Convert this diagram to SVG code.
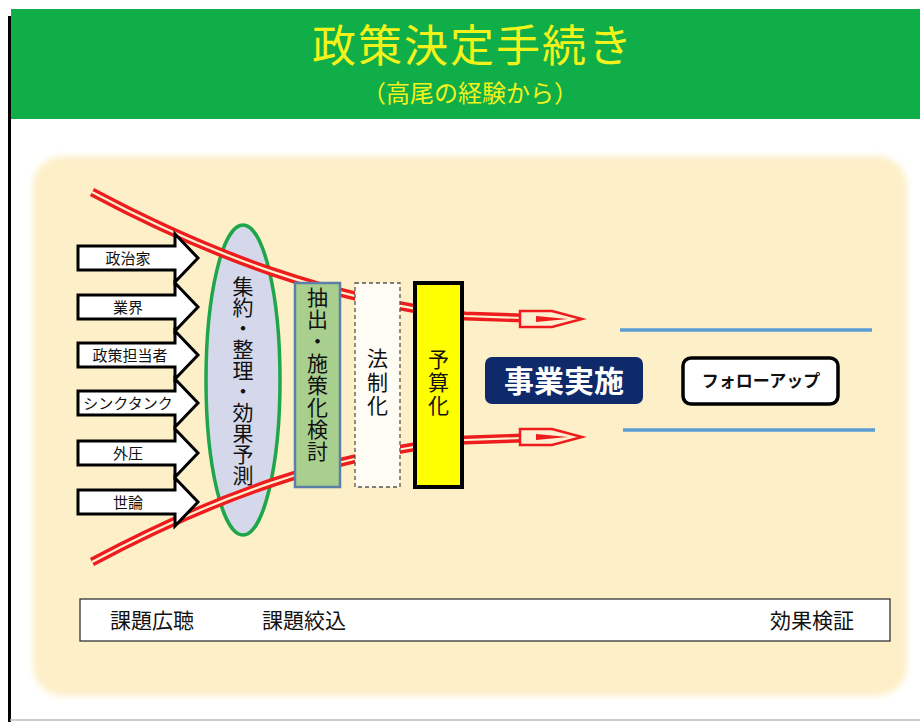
<svg xmlns="http://www.w3.org/2000/svg" width="920" height="722" viewBox="0 0 920 722">
<defs>
<style>
.jp{font-family:"Noto Sans CJK JP","Noto Sans CJK SC",sans-serif;}
.arr{fill:#ffffff;stroke:#000;stroke-width:3;stroke-linejoin:miter;}
.alab{font-size:15px;fill:#111;text-anchor:middle;}
.vt{font-size:21px;fill:#111;writing-mode:vertical-rl;}
.red{fill:none;stroke:#ee1c1c;stroke-width:9;}
.gap{fill:none;stroke:#fdefd0;stroke-width:2.2;}
.head{fill:#fdefd0;stroke:#ee1c1c;stroke-width:2.5;stroke-linejoin:miter;}
.blue{stroke:#5b9bd5;stroke-width:3.5;}
.bot{font-size:21px;fill:#111;}
</style>
<filter id="soft" x="-5%" y="-5%" width="110%" height="110%"><feGaussianBlur stdDeviation="3"/></filter>
</defs>
<rect width="920" height="722" fill="#ffffff"/>
<line x1="9.5" y1="16" x2="9.5" y2="722" stroke="#000" stroke-width="3"/>
<line x1="10" y1="720" x2="920" y2="720" stroke="#bdbdbd" stroke-width="1.5"/>
<g id="header">
<rect x="11" y="9" width="909" height="110" fill="#0fae48"/>
<text class="jp" x="473" y="62" font-size="44" letter-spacing="2" fill="#f3f31c" text-anchor="middle">政策決定手続き</text>
<text class="jp" x="470" y="102" font-size="24" fill="#f3f31c" text-anchor="middle">（高尾の経験から）</text>
</g>
<rect x="33" y="156" width="874" height="540" rx="30" fill="#fdefc8" filter="url(#soft)"/>
<g id="ellipse">
<ellipse cx="243" cy="380" rx="37" ry="155" fill="#d5d8ea" stroke="#1fa64a" stroke-width="3.5"/>
<text class="jp vt" x="243" y="276">集約・整理・効果予測</text>
</g>
<g id="connectors">
<path class="red" d="M 92,192 C 210,255 330,300 465,316 L 552,319"/>
<path class="gap" d="M 92,192 C 210,255 330,300 465,316 L 552,319"/>
<polygon class="head" points="520,311 552,311 582,319 552,327 520,327"/>
<polygon points="536,316 568,319 536,322" fill="#ee1c1c"/>
<path class="red" d="M 92,562 C 210,499 330,454 465,440 L 552,437"/>
<path class="gap" d="M 92,562 C 210,499 330,454 465,440 L 552,437"/>
<polygon class="head" points="520,429 552,429 582,437 552,445 520,445"/>
<polygon points="536,434 568,437 536,440" fill="#ee1c1c"/>
<line class="blue" x1="620" y1="330" x2="872" y2="330"/>
<line class="blue" x1="623" y1="430" x2="875" y2="430"/>
</g>
<g id="a1"><polygon class="arr" points="78,246 175,246 175,234 198,258 175,282 175,270 78,270"/><text class="jp alab" x="128" y="263.5">政治家</text></g>
<g id="a2"><polygon class="arr" points="78,295 175,295 175,283 198,307 175,331 175,319 78,319"/><text class="jp alab" x="128" y="312.5">業界</text></g>
<g id="a3"><polygon class="arr" points="78,343 175,343 175,331 198,355 175,379 175,367 78,367"/><text class="jp alab" x="130" y="360.5">政策担当者</text></g>
<g id="a4"><polygon class="arr" points="78,391 175,391 175,379 198,403 175,427 175,415 78,415"/><text class="jp alab" x="128" y="408.5">シンクタンク</text></g>
<g id="a5"><polygon class="arr" points="78,441 175,441 175,429 198,453 175,477 175,465 78,465"/><text class="jp alab" x="128" y="458.5">外圧</text></g>
<g id="a6"><polygon class="arr" points="78,490 175,490 175,478 198,502 175,526 175,514 78,514"/><text class="jp alab" x="128" y="507.5">世論</text></g>
<g id="box-green">
<rect x="295" y="283" width="45" height="204" fill="#a9cf8f" stroke="#5b7fa6" stroke-width="2.5"/>
<text class="jp vt" x="317.5" y="287" letter-spacing="1">抽出・施策化検討</text>
</g>
<g id="box-law">
<rect x="355" y="283" width="45" height="204" fill="#fffcf4" stroke="#555" stroke-width="1.3" stroke-dasharray="4 3"/>
<text class="jp vt" x="377.5" y="348" font-size="22" letter-spacing="2.5">法制化</text>
</g>
<g id="box-budget">
<rect x="415" y="283" width="47" height="204" fill="#ffff00" stroke="#000" stroke-width="4"/>
<text class="jp vt" x="438.5" y="349" font-size="22" letter-spacing="2">予算化</text>
</g>
<g id="jigyo">
<rect x="485" y="357" width="158" height="47" rx="7" fill="#0f2a6b"/>
<text class="jp" x="564" y="392" font-size="30" font-weight="bold" fill="#fff" text-anchor="middle">事業実施</text>
</g>
<g id="followup">
<rect x="683" y="358" width="155" height="46" rx="8" fill="#fff" stroke="#000" stroke-width="3.5"/>
<text class="jp" x="761" y="387" font-size="17" font-weight="bold" fill="#111" text-anchor="middle">フォローアップ</text>
</g>
<g id="bottom-bar">
<rect x="80" y="599" width="810" height="42" fill="#fff" stroke="#333" stroke-width="1.3"/>
<text class="jp bot" x="110" y="628">課題広聴</text>
<text class="jp bot" x="262" y="628">課題絞込</text>
<text class="jp bot" x="770" y="628">効果検証</text>
</g>
</svg>
